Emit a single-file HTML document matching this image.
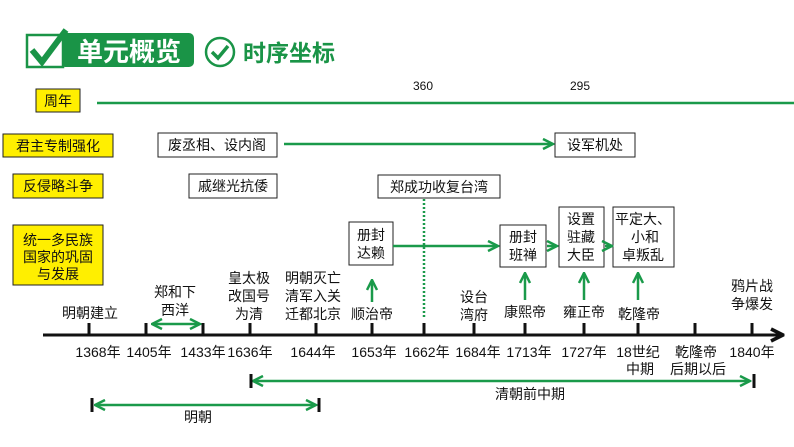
<!DOCTYPE html>
<html><head><meta charset="utf-8"><style>
body{margin:0;background:#fff}
svg{display:block}
text{font-family:"Liberation Sans","Noto Sans CJK SC",sans-serif;font-size:14px;fill:#111}
</style></head><body>
<svg width="794" height="447" viewBox="0 0 794 447">
<defs>
<marker id="a" viewBox="0 0 10 10" refX="9" refY="5" markerWidth="5" markerHeight="5" orient="auto-start-reverse"><path d="M1,1 L9,5 L1,9" fill="none" stroke="#1a9a4a" stroke-width="2"/></marker>
<marker id="k" viewBox="0 0 10 10" refX="9" refY="5" markerWidth="5" markerHeight="5" orient="auto"><path d="M1,1 L9,5 L1,9" fill="none" stroke="#111" stroke-width="2.4"/></marker>
</defs>
<rect x="60" y="33" width="134" height="34" rx="5" fill="#1a9447"/>
<rect x="27" y="35" width="36" height="32" fill="#fff" stroke="#1a9447" stroke-width="2.5"/>
<path d="M32,50 L42,62 L66,30" fill="none" stroke="#1a9447" stroke-width="6"/>
<text x="77" y="61" style="font-size:26px;fill:#fff;font-weight:bold">单元概览</text>
<circle cx="220" cy="52" r="14" fill="none" stroke="#1a9447" stroke-width="2.5"/>
<path d="M212,52 L218,58 L228,46" fill="none" stroke="#1a9447" stroke-width="3.5"/>
<text x="243" y="61" style="font-size:23px;fill:#1a9447;font-weight:bold">时序坐标</text>
<g stroke="#222" stroke-width="1">
<rect x="36" y="89" width="44" height="23" fill="#ffef00"/>
<rect x="3" y="134" width="110" height="23" fill="#ffef00"/>
<rect x="13" y="174" width="90" height="24" fill="#ffef00"/>
<rect x="13" y="225" width="90" height="60" fill="#ffef00"/>
<rect x="158" y="133" width="119" height="24" fill="#fff"/>
<rect x="555" y="133" width="80" height="24" fill="#fff"/>
<rect x="189" y="174" width="88" height="24" fill="#fff"/>
<rect x="378" y="175" width="122" height="23" fill="#fff"/>
<rect x="349" y="222" width="44" height="43" fill="#fff"/>
<rect x="500" y="225" width="46" height="42" fill="#fff"/>
<rect x="559" y="207" width="45" height="60" fill="#fff"/>
<rect x="613" y="207" width="61" height="60" fill="#fff"/>
</g>
<text x="58" y="106" text-anchor="middle">周年</text>
<text x="58" y="151" text-anchor="middle">君主专制强化</text>
<text x="58" y="191" text-anchor="middle">反侵略斗争</text>
<text x="58" y="245" text-anchor="middle">统一多民族</text>
<text x="58" y="262" text-anchor="middle">国家的巩固</text>
<text x="58" y="279" text-anchor="middle">与发展</text>
<text x="217" y="150" text-anchor="middle">废丞相、设内阁</text>
<text x="595" y="150" text-anchor="middle">设军机处</text>
<text x="233" y="191" text-anchor="middle">戚继光抗倭</text>
<text x="439" y="192" text-anchor="middle">郑成功收复台湾</text>
<text x="371" y="240" text-anchor="middle">册封</text><text x="371" y="258" text-anchor="middle">达赖</text>
<text x="523" y="242" text-anchor="middle">册封</text><text x="523" y="260" text-anchor="middle">班禅</text>
<text x="581" y="224" text-anchor="middle">设置</text><text x="581" y="242" text-anchor="middle">驻藏</text><text x="581" y="260" text-anchor="middle">大臣</text>
<text x="643" y="224" text-anchor="middle">平定大、</text><text x="645" y="242" text-anchor="middle">小和</text><text x="643" y="260" text-anchor="middle">卓叛乱</text>
<g stroke="#1a9a4a" stroke-width="2.5" fill="none">
<line x1="97" y1="103" x2="794" y2="103"/>
<line x1="284" y1="144" x2="553" y2="144" marker-end="url(#a)"/>
<line x1="393" y1="246" x2="498" y2="246" marker-end="url(#a)"/>
<line x1="547" y1="246" x2="557" y2="246" marker-end="url(#a)"/>
<line x1="605" y1="246" x2="612" y2="246" marker-end="url(#a)"/>
<line x1="424" y1="199" x2="424" y2="318" stroke-dasharray="2,2"/>
<line x1="372" y1="302" x2="372" y2="280" marker-end="url(#a)"/>
<line x1="525" y1="300" x2="525" y2="273" marker-end="url(#a)"/>
<line x1="584" y1="300" x2="584" y2="273" marker-end="url(#a)"/>
<line x1="638" y1="300" x2="638" y2="273" marker-end="url(#a)"/>
<line x1="152" y1="324" x2="200" y2="324" marker-start="url(#a)" marker-end="url(#a)"/>
<line x1="253" y1="381" x2="750" y2="381" marker-start="url(#a)" marker-end="url(#a)"/>
<line x1="95" y1="405" x2="316" y2="405" marker-start="url(#a)" marker-end="url(#a)"/>
</g>
<text x="423" y="90" text-anchor="middle" style="font-size:12px">360</text>
<text x="580" y="90" text-anchor="middle" style="font-size:12px">295</text>
<g stroke="#111" stroke-width="3">
<line x1="43" y1="335" x2="783" y2="335" marker-end="url(#k)"/>
<line x1="89" y1="323" x2="89" y2="335"/><line x1="146" y1="323" x2="146" y2="335"/>
<line x1="203" y1="323" x2="203" y2="335"/><line x1="250" y1="323" x2="250" y2="335"/>
<line x1="316" y1="323" x2="316" y2="335"/><line x1="372" y1="323" x2="372" y2="335"/>
<line x1="424" y1="323" x2="424" y2="335"/><line x1="474" y1="323" x2="474" y2="335"/>
<line x1="525" y1="323" x2="525" y2="335"/><line x1="584" y1="323" x2="584" y2="335"/>
<line x1="638" y1="323" x2="638" y2="335"/><line x1="695" y1="323" x2="695" y2="335"/>
<line x1="752" y1="323" x2="752" y2="335"/>
<line x1="251" y1="374" x2="251" y2="388"/><line x1="754" y1="374" x2="754" y2="388"/>
<line x1="92" y1="398" x2="92" y2="412"/><line x1="319" y1="398" x2="319" y2="412"/>
</g>
<g text-anchor="middle">
<text x="98" y="357">1368年</text><text x="149" y="357">1405年</text><text x="203" y="357">1433年</text>
<text x="250" y="357">1636年</text><text x="313" y="357">1644年</text><text x="374" y="357">1653年</text>
<text x="427" y="357">1662年</text><text x="478" y="357">1684年</text><text x="529" y="357">1713年</text>
<text x="584" y="357">1727年</text><text x="638" y="357">18世纪</text><text x="640" y="374">中期</text>
<text x="696" y="357">乾隆帝</text><text x="698" y="374">后期以后</text><text x="752" y="357">1840年</text>
<text x="90" y="318">明朝建立</text>
<text x="175" y="297">郑和下</text><text x="175" y="315">西洋</text>
<text x="249" y="283">皇太极</text><text x="249" y="301">改国号</text><text x="249" y="319">为清</text>
<text x="313" y="283">明朝灭亡</text><text x="313" y="301">清军入关</text><text x="313" y="319">迁都北京</text>
<text x="372" y="319">顺治帝</text>
<text x="474" y="302">设台</text><text x="474" y="320">湾府</text>
<text x="525" y="317">康熙帝</text><text x="584" y="317">雍正帝</text><text x="639" y="319">乾隆帝</text>
<text x="752" y="291">鸦片战</text><text x="752" y="309">争爆发</text>
<text x="530" y="399">清朝前中期</text>
<text x="198" y="422">明朝</text>
</g>
</svg>
</body></html>
